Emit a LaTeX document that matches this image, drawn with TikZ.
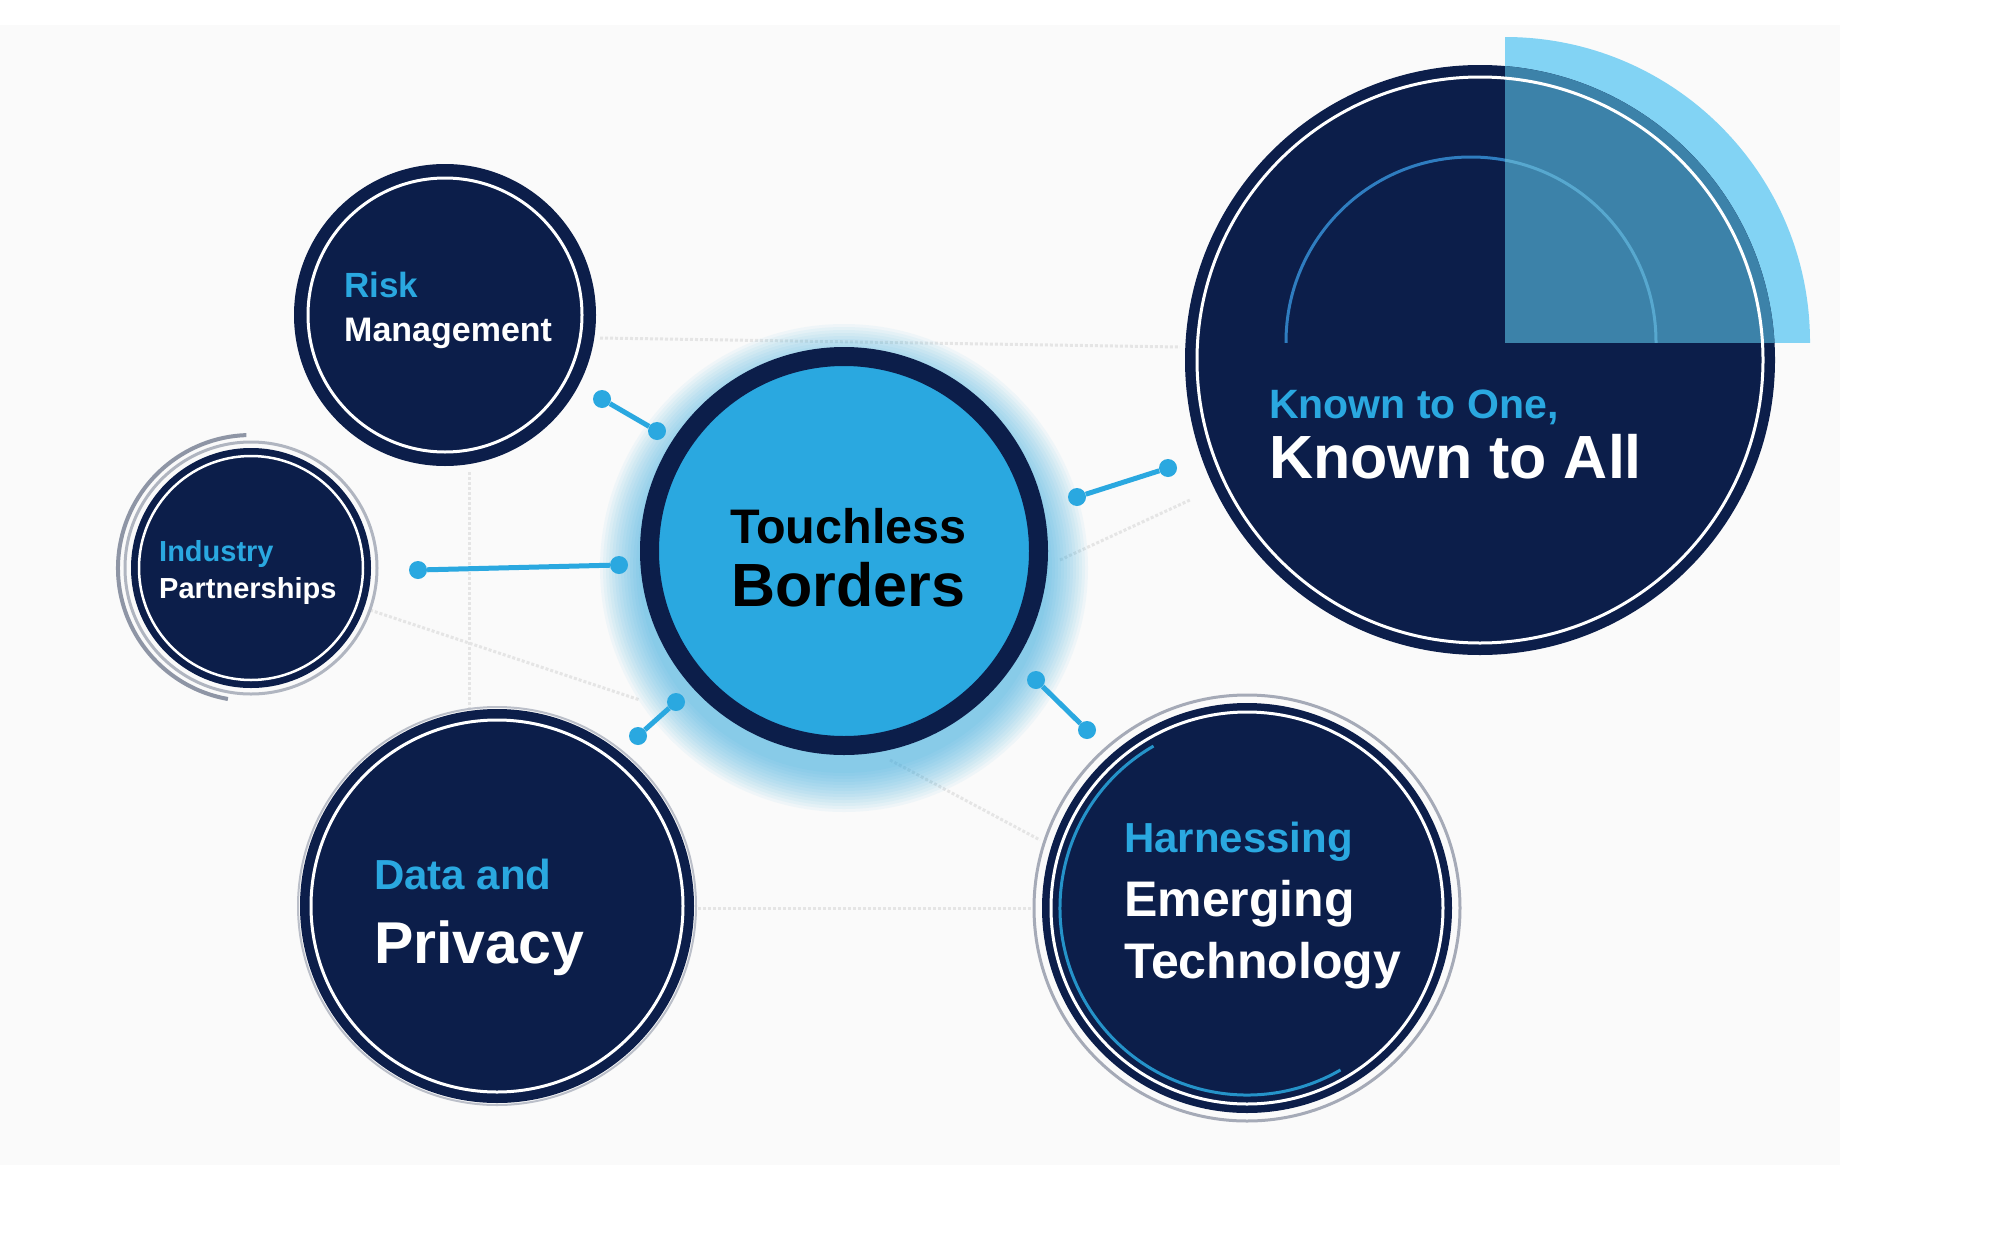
\documentclass[tikz,border=0pt]{standalone}
\usepackage{fontspec}
\setmainfont{Liberation Sans}
\definecolor{navy}{HTML}{0C1E4A}
\definecolor{cyanb}{HTML}{2AA8E0}
\definecolor{lightb}{HTML}{82D3F4}
\definecolor{medb}{HTML}{3C82A9}
\definecolor{arcb}{HTML}{2F7DC0}
\definecolor{ringgray}{HTML}{8E95A5}
\begin{document}
\begin{tikzpicture}[x=1pt,y=-1pt,
  disc/.style={circle, fill=navy, inner sep=0, minimum size=#1},
  txt/.style={anchor=base west, inner sep=0, font=\bfseries},
  lab/.style={txt, text=cyanb},
  wht/.style={txt, text=white},
  dot/.style={circle, fill=cyanb, minimum size=18pt, inner sep=0},
  link/.style={draw=cyanb, line width=5pt},
  bgline/.style={draw=black!10, dotted, line width=3pt},
  whitering/.style={draw=white, line width=3pt},
  grayring/.style={draw=ringgray, line width=3pt}
]
\useasboundingbox (0,0) rectangle (2000,1250);
\fill[white] (0,0) rectangle (2000,1250);
\fill[black!2] (0,25) rectangle (1840,1165);

% faint background network
\draw[bgline] (600,338) -- (1180,347);
\draw[bgline] (698,908) -- (1033,908);
\draw[bgline] (469,472) -- (469,708);
\draw[bgline] (370,610) -- (640,700);
\draw[bgline] (890,760) -- (1040,840);
\draw[bgline] (1060,560) -- (1190,500);

% glow around the centre
\foreach \r in {205,208,...,244}{
  \fill[cyanb, opacity=0.05] (844,568) circle (\r);
}

% Known to One, Known to All
\begin{scope}
  \clip (1505,0) rectangle (2000,342);
  \fill[lightb] (1505,342) circle (305);
\end{scope}
\node[disc=590pt] (ka) at (1480,360) {};
\begin{scope}
  \clip (1505,0) rectangle (2000,342);
  \fill[medb] (ka.center) circle (295);
\end{scope}
\begin{scope}
  \clip (0,0) rectangle (1505,342);
  \draw[arcb, line width=3pt] (1471,342) circle (185);
\end{scope}
\begin{scope}
  \clip (1505,0) rectangle (2000,342);
  \draw[cyanb!70!white, opacity=0.6, line width=3pt] (1471,342) circle (185);
\end{scope}
\draw[whitering] (ka.center) circle (283);

% Risk Management
\node[disc=302pt] (rm) at (445,315) {};
\draw[whitering] (rm.center) circle (137);

% Industry Partnerships
\draw[grayring, draw=ringgray!70] (251,568) circle (126);
\draw[grayring, line width=4pt] (251,568) ++(100:133) arc[start angle=100, end angle=268, radius=133];
\node[disc=240pt] (ip) at (251,568) {};
\draw[whitering, line width=2.5pt] (ip.center) circle (112);

% Data and Privacy
\draw[draw=ringgray!60, line width=2pt] (497,906) circle (199);
\node[disc=394pt] (dp) at (497,906) {};
\draw[whitering] (dp.center) circle (186);

% Harnessing Emerging Technology
\draw[grayring, draw=ringgray!80] (1247,908) circle (213);
\node[disc=410pt] (ht) at (1247,908) {};
\draw[whitering, line width=3pt] (ht.center) circle (196);
\draw[draw=cyanb!85!navy, line width=3pt] (ht.center) ++(60:187) arc[start angle=60, end angle=240, radius=187];

% Touchless Borders
\node[circle, fill=cyanb, draw=navy, line width=19pt, minimum size=389pt, inner sep=0] (tb) at (844,551) {};

% connectors
\node[dot] (c1a) at (602,399) {};
\node[dot] (c1b) at (657,431) {};
\node[dot] (c2a) at (418,570) {};
\node[dot] (c2b) at (619,565) {};
\node[dot] (c3a) at (638,736) {};
\node[dot] (c3b) at (676,702) {};
\node[dot] (c4a) at (1077,497) {};
\node[dot] (c4b) at (1168,468) {};
\node[dot] (c5a) at (1036,680) {};
\node[dot] (c5b) at (1087,730) {};
\draw[link] (c1a) -- (c1b);
\draw[link] (c2a) -- (c2b);
\draw[link] (c3a) -- (c3b);
\draw[link] (c4a) -- (c4b);
\draw[link] (c5a) -- (c5b);

% texts
\node[lab, font=\bfseries\fontsize{35}{40}\selectfont] (rm1) at (344,297) {Risk};
\node[wht, font=\bfseries\fontsize{34}{40}\selectfont] (rm2) at (344,341) {Management};
\node[lab, font=\bfseries\fontsize{29}{34}\selectfont] (ip1) at (159,561) {Industry};
\node[wht, font=\bfseries\fontsize{29}{34}\selectfont] (ip2) at (159,598) {Partnerships};
\node[txt, text=black, font=\bfseries\fontsize{48.5}{55}\selectfont] (tb1) at (730,543) {Touchless};
\node[txt, text=black, font=\bfseries\fontsize{61}{70}\selectfont] (tb2) at (731,606) {Borders};
\node[lab, font=\bfseries\fontsize{41}{48}\selectfont] (ka1) at (1269,418) {Known to One,};
\node[wht, font=\bfseries\fontsize{61}{70}\selectfont] (ka2) at (1269,478) {Known to All};
\node[lab, font=\bfseries\fontsize{42}{48}\selectfont] (dp1) at (374,889) {Data and};
\node[wht, font=\bfseries\fontsize{59}{68}\selectfont] (dp2) at (374,963) {Privacy};
\node[lab, font=\bfseries\fontsize{42}{48}\selectfont] (ht1) at (1124,852) {Harnessing};
\node[wht, font=\bfseries\fontsize{50}{58}\selectfont] (ht2) at (1124,916) {Emerging};
\node[wht, font=\bfseries\fontsize{50}{58}\selectfont] (ht3) at (1124,978) {Technology};
\end{tikzpicture}
\end{document}
